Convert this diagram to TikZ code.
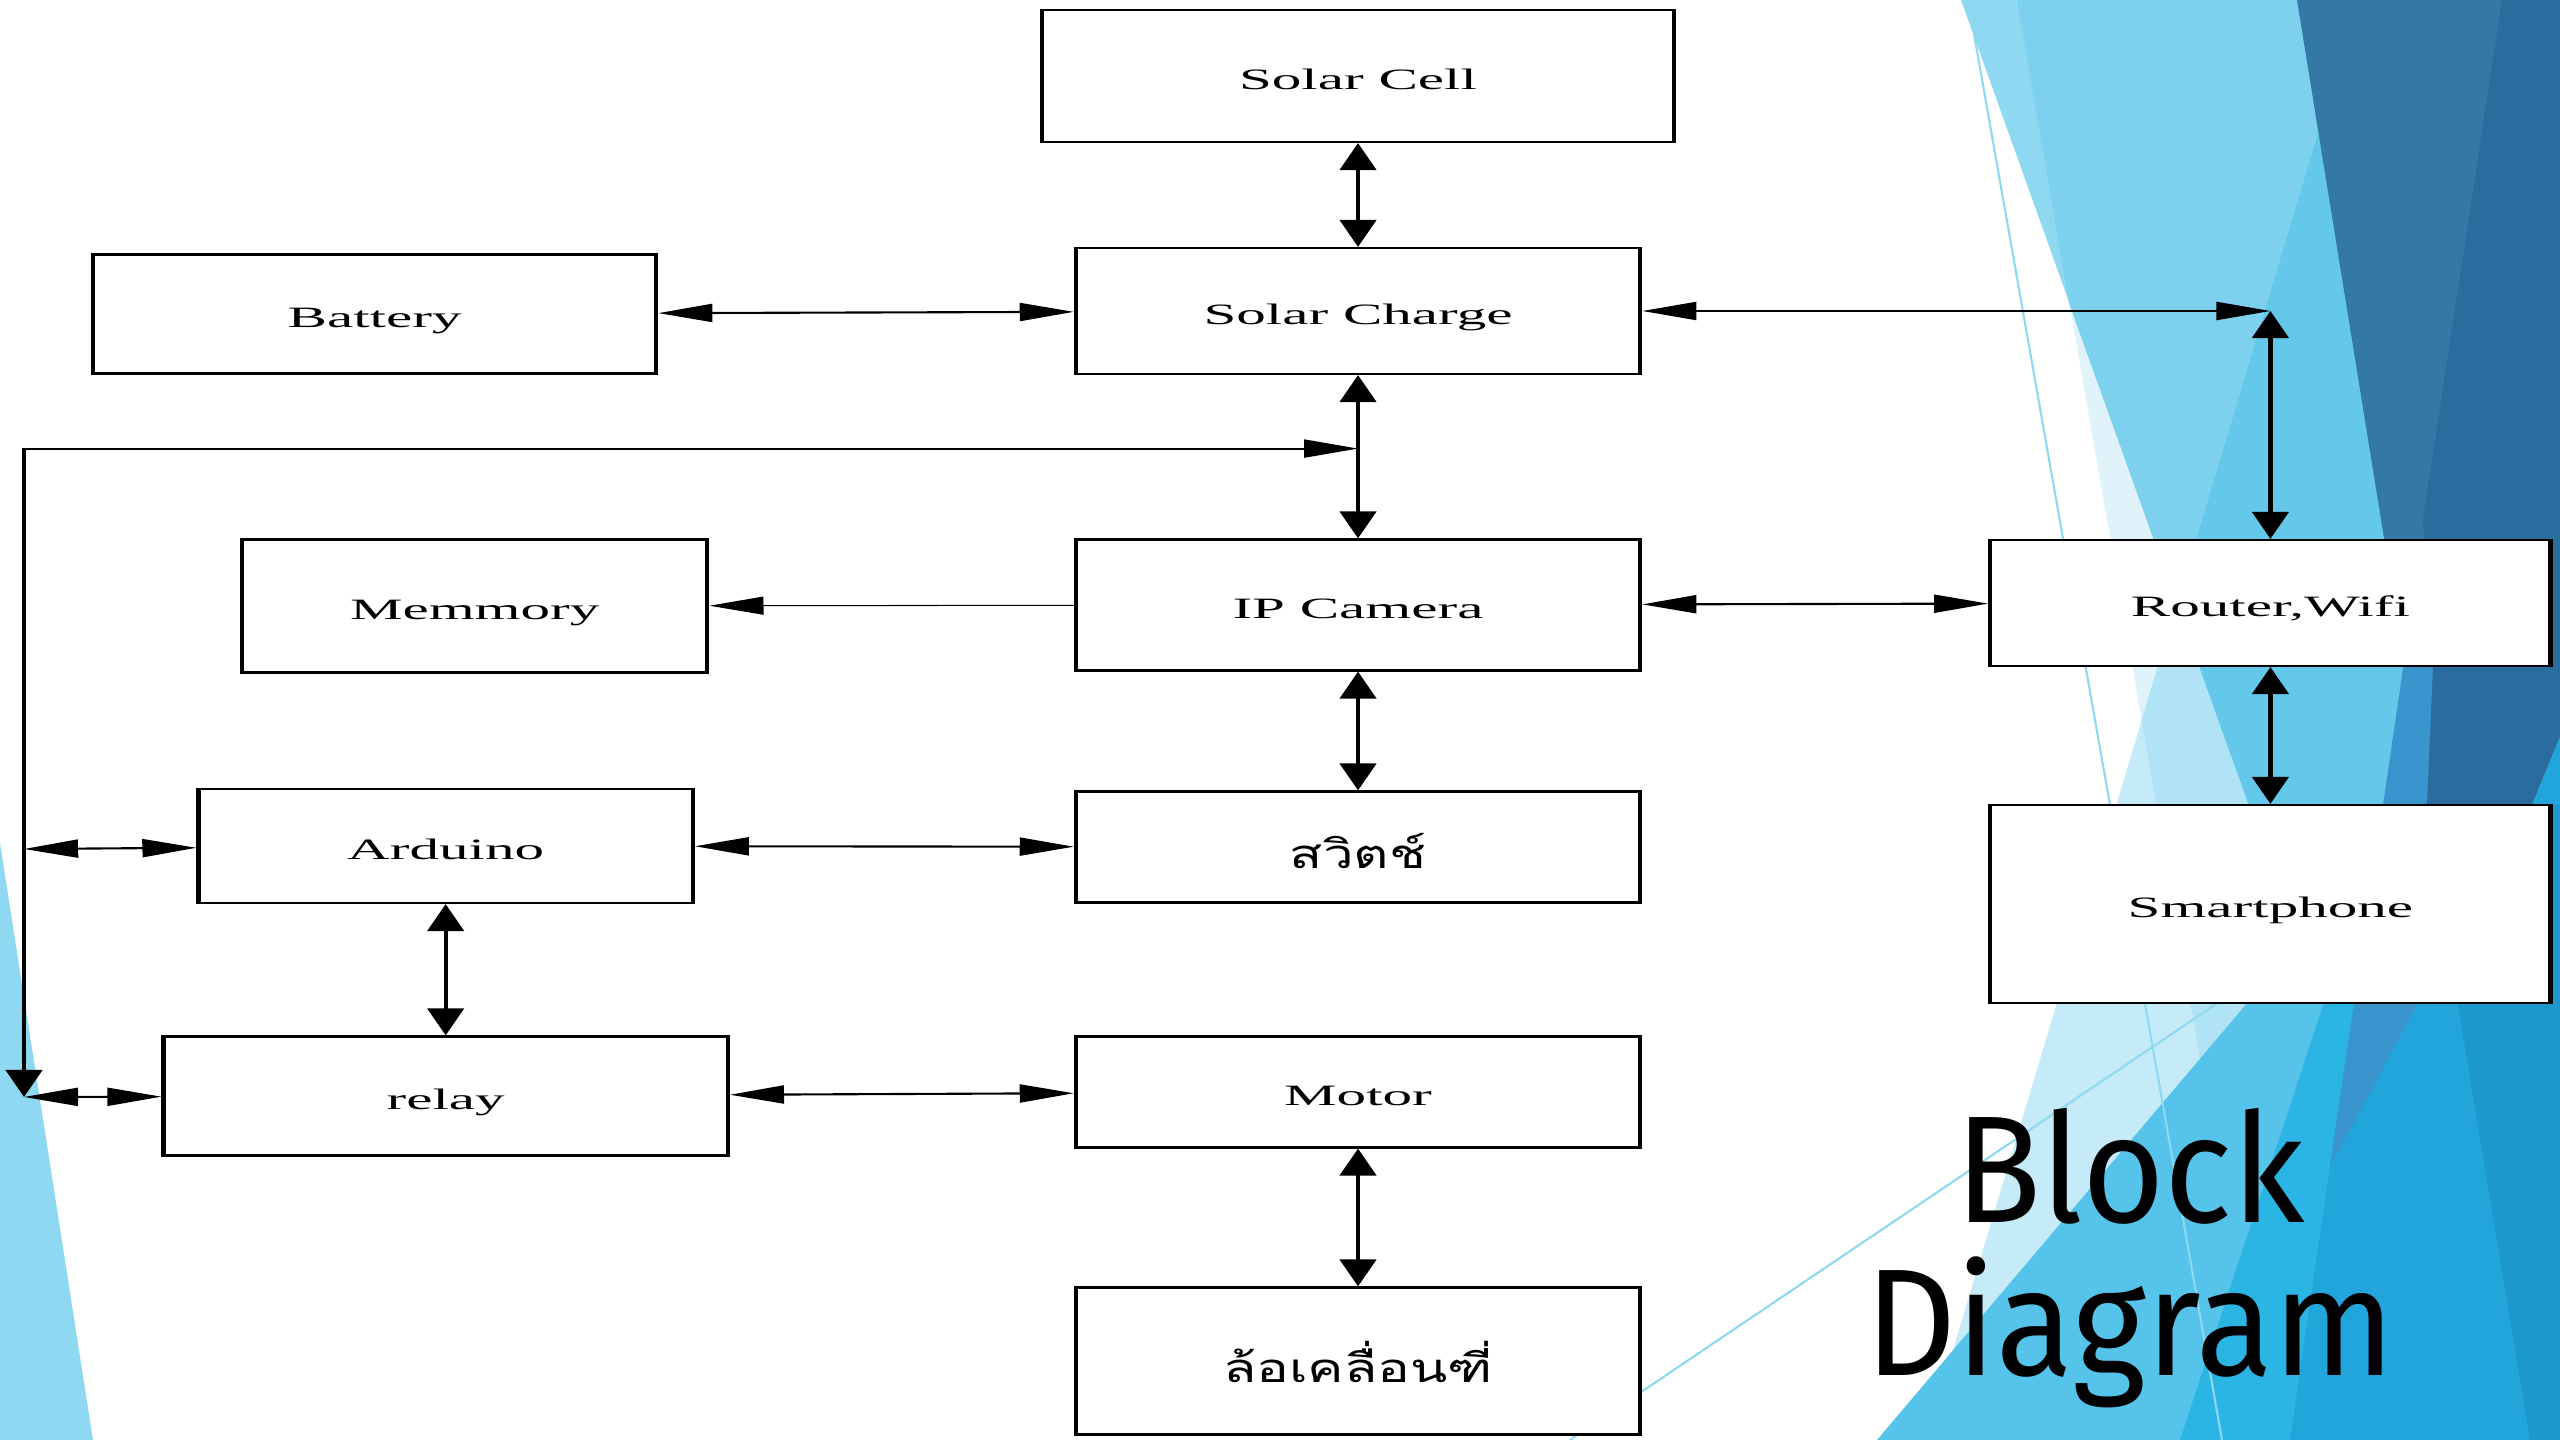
\documentclass[tikz,border=0pt]{standalone}
\usepackage{fontspec}
\setmainfont{Liberation Serif}
\newfontfamily\thaifont[Script=Thai,FakeStretch=0.68]{Loma}
\newfontfamily\titlefont[FakeStretch=0.93]{Fira Sans}
\usetikzlibrary{arrows.meta,calc}

\definecolor{facetQ}{HTML}{E0F3FA}
\definecolor{facetP}{HTML}{8ED8F2}
\definecolor{facetPQ}{HTML}{7DD1EE}
\definecolor{facetM}{HTML}{C5EBF8}
\definecolor{facetMQ}{HTML}{B0E3F5}
\definecolor{facetMPQ}{HTML}{64C8EB}
\definecolor{facetS}{HTML}{55C3EA}
\definecolor{facetT}{HTML}{2BB5E4}
\definecolor{facetU}{HTML}{22A5DB}
\definecolor{facetFR}{HTML}{1C98CC}
\definecolor{facetMB}{HTML}{3A95CE}
\definecolor{facetDA}{HTML}{3478A5}
\definecolor{facetDB}{HTML}{2A6C9D}

\tikzset{
  block/.style={draw, line width=0.6pt, fill=white, inner sep=0pt,
    font=\fontsize{8.4}{10}\selectfont, text height=7.4pt, text depth=0pt},
  thai/.style={font=\thaifont\fontsize{11.4}{13}\selectfont, text height=12pt},
  biarrow/.style={line width=0.6pt,
    {Triangle[length=0.27cm,width=0.18cm]}-{Triangle[length=0.27cm,width=0.18cm]}},
  onearrow/.style={line width=0.3pt, -{Triangle[length=0.27cm,width=0.18cm]}},
  facetline/.style={draw=facetP, line width=0.6pt}
}

\begin{document}
\begin{tikzpicture}[x=0.01cm,y=-0.01cm]
  \useasboundingbox (0,0) rectangle (2560,1440);

  % Background facets.
  \fill[facetP] (0,843) -- (93,1440) -- (0,1440) -- cycle;
  \fill[facetQ] (2017,0) -- (2266,1440) -- (2560,1440) -- (2560,0) -- cycle;
  \fill[facetP] (1961,0) -- (2476,1440) -- (2560,1440) -- (2560,0) -- cycle;
  \fill[facetPQ] (2017,0) -- (2069,303) -- (2476,1440) -- (2560,1440) -- (2560,0) -- cycle;
  \begin{scope}
    \clip (2318,132) -- (1926,1440) -- (2560,1440) -- (2560,132) -- cycle;
    \fill[facetM] (1900,0) rectangle (2560,1440);
    \fill[facetMQ] (2017,0) -- (2266,1440) -- (2560,1440) -- (2560,0) -- cycle;
    \fill[facetMPQ] (2017,0) -- (2069,303) -- (2476,1440) -- (2560,1440) -- (2560,0) -- cycle;
  \end{scope}
  \fill[facetS] (2415,805) -- (1877,1440) -- (2560,1440) -- (2560,805) -- cycle;
  \fill[facetT] (2389,805) -- (2180,1440) -- (2560,1440) -- (2560,805) -- cycle;
  \fill[facetU] (2383,805) -- (2290,1440) -- (2560,1440) -- (2560,805) -- cycle;
  \fill[facetFR] (2425,805) -- (2530,1440) -- (2560,1440) -- (2560,805) -- cycle;
  \fill[facetMB] (2413,600) -- (2330,1167) -- (2560,737) -- (2560,600) -- cycle;
  \fill[facetDA] (2297,0) -- (2560,0) -- (2560,600) -- (2394,600) -- cycle;
  \fill[facetDB] (2502,0) -- (2560,0) -- (2560,737) -- (2532,805) -- (2427,805)
    -- (2433,667) -- (2423,520) -- cycle;
  \fill[facetU] (2560,737) -- (2532,805) -- (2560,805) -- cycle;
  \path[facetline] (1968,0) -- (2222,1440);
  \path[facetline] (1570,1440) -- (2400,880);

  % Title.
  \node[font=\titlefont\fontsize{43.3}{43.5}\selectfont, align=center, anchor=base]
    (title) at (2130,1375) {Block\\Diagram};

  % Draw blocks, stretched sideways like the pasted figure.
  \begin{scope}[transform canvas={xscale=2}, x=0.005cm]
    \node[block, minimum width=3.16cm, minimum height=1.32cm] (solarcell) at (1356,76) {Solar Cell};
    \node[block, minimum width=2.82cm, minimum height=1.26cm] (solarcharge) at (1356,311) {Solar Charge};
    \node[block, minimum width=2.815cm, minimum height=1.19cm] (battery) at (374,314) {Battery};
    \node[block, minimum width=2.325cm, minimum height=1.33cm] (memory) at (474,606) {Memmory};
    \node[block, minimum width=2.82cm, minimum height=1.31cm] (ipcam) at (1356,605) {IP Camera};
    \node[block, minimum width=2.80cm, minimum height=1.26cm] (router) at (2267,603) {Router,Wifi};
    \node[block, minimum width=2.47cm, minimum height=1.14cm] (arduino) at (445,846) {Arduino};
    \node[block, thai, minimum width=2.82cm, minimum height=1.11cm] (switch) at (1356,847) {สวิตช์};
    \node[block, minimum width=2.80cm, minimum height=1.98cm] (smartphone) at (2267,904) {Smartphone};
    \node[block, minimum width=2.82cm, minimum height=1.19cm] (relay) at (445,1096) {relay};
    \node[block, minimum width=2.82cm, minimum height=1.11cm] (motor) at (1356,1092) {Motor};
    \node[block, thai, minimum width=2.82cm, minimum height=1.47cm] (wheel) at (1356,1361) {ล้อเคลื่อนฑี่};

    % Draw connectors.
    \coordinate (rcorner) at (router.north |- solarcharge.east);
    \coordinate (tap) at ($(solarcharge.south)!0.45!(ipcam.north)$);
    \coordinate (lmid) at (24,849);
    \coordinate (lbot) at (24,1097);
    \draw[biarrow] (solarcell) -- (solarcharge);
    \draw[biarrow] (battery) -- (solarcharge);
    \draw[biarrow] (solarcharge) -- (rcorner);
    \draw[biarrow] (rcorner) -- (router);
    \draw[biarrow] (solarcharge) -- (ipcam);
    \draw[biarrow] (lbot) |- (tap);
    \draw[onearrow] (ipcam) -- (memory);
    \draw[biarrow] (ipcam) -- (router);
    \draw[biarrow] (router) -- (smartphone);
    \draw[biarrow] (ipcam) -- (switch);
    \draw[biarrow] (lmid) -- (arduino);
    \draw[biarrow] (arduino) -- (switch);
    \draw[biarrow] (arduino) -- (relay);
    \draw[biarrow] (lbot) -- (relay);
    \draw[biarrow] (relay) -- (motor);
    \draw[biarrow] (motor) -- (wheel);
  \end{scope}
\end{tikzpicture}
\end{document}
